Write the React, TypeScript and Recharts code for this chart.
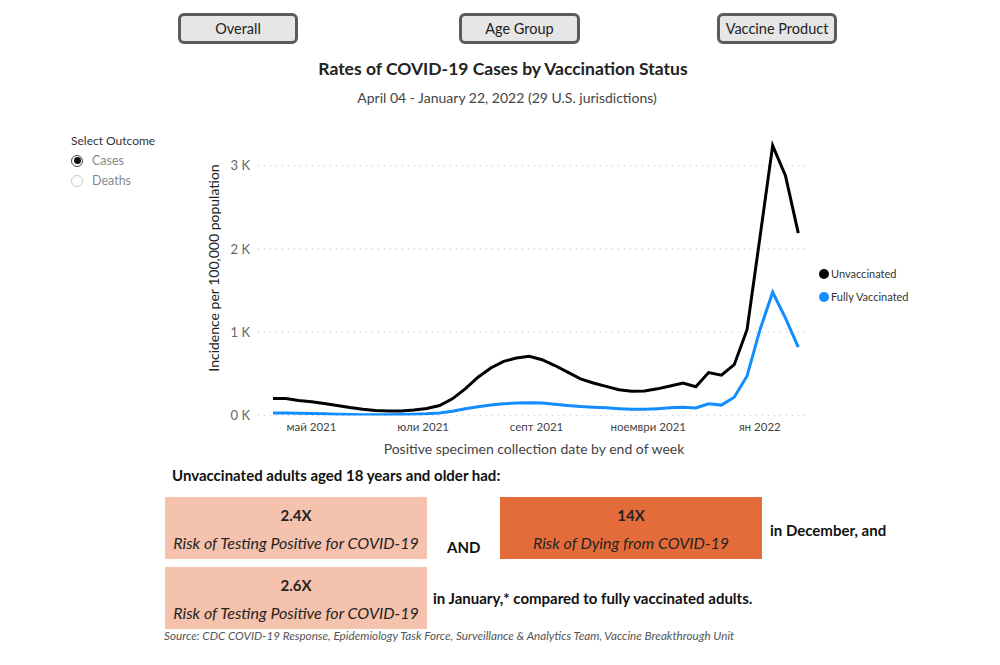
import React from 'react';
import { LineChart, Line, XAxis, YAxis, CartesianGrid, Label } from 'recharts';

// Week-ending dates of positive specimen collection
const weekEnding = [
  '2021-04-10', '2021-04-17', '2021-04-24', '2021-05-01', '2021-05-08', '2021-05-15',
  '2021-05-22', '2021-05-29', '2021-06-05', '2021-06-12', '2021-06-19', '2021-06-26',
  '2021-07-03', '2021-07-10', '2021-07-17', '2021-07-24', '2021-07-31', '2021-08-07',
  '2021-08-14', '2021-08-21', '2021-08-28', '2021-09-04', '2021-09-11', '2021-09-18',
  '2021-09-25', '2021-10-02', '2021-10-09', '2021-10-16', '2021-10-23', '2021-10-30',
  '2021-11-06', '2021-11-13', '2021-11-20', '2021-11-27', '2021-12-04', '2021-12-11',
  '2021-12-18', '2021-12-25', '2022-01-01', '2022-01-08', '2022-01-15', '2022-01-22',
];

// Incidence per 100,000 population
const unvaccinated = [
  205, 205, 180, 165, 145, 120,
  95, 75, 60, 55, 55, 65,
  85, 120, 200, 320, 460, 570,
  650, 690, 710, 670, 600, 520,
  440, 390, 350, 310, 290, 295,
  320, 355, 390, 345, 515, 485,
  610, 1030, 2130, 3240, 2880, 2190,
];

const fullyVaccinated = [
  30, 30, 28, 25, 20, 15,
  12, 10, 10, 10, 12, 15,
  20, 30, 50, 80, 105, 125,
  140, 150, 152, 150, 135, 120,
  108, 100, 92, 82, 75, 75,
  82, 92, 100, 90, 140, 125,
  220, 475, 1025, 1480, 1170, 820,
];

const monthTicks = ['2021-05-01', '2021-07-01', '2021-09-01', '2021-11-01', '2022-01-01'];
const monthTickLabels = ['май 2021', 'юли 2021', 'септ 2021', 'ноември 2021', 'ян 2022'];

const yTicks = [0, 1000, 2000, 3000];
const yTickLabels = ['0 K', '1 K', '2 K', '3 K'];

const seriesNames = ['Unvaccinated', 'Fully Vaccinated'];
const seriesColors = ['#000000', '#118DFF'];

const dayNumber = (iso: string) => {
  const [y, m, d] = iso.split('-').map(Number);
  return Date.UTC(y, m - 1, d) / 86400000;
};

const data = weekEnding.map((w, i) => ({
  day: dayNumber(w),
  unvaccinated: unvaccinated[i],
  fullyVaccinated: fullyVaccinated[i],
}));

const tickDays = monthTicks.map(dayNumber);
const xDomain = [dayNumber('2021-05-01') - 29.2, dayNumber('2022-01-01') + 27.4];

const FONT = "'Segoe UI', Lato, 'Open Sans', 'Noto Sans', sans-serif";

const Button = ({ label, left, width }: { label: string; left: number; width: number }) => (
  <div
    style={{
      position: 'absolute',
      left,
      top: 13,
      width,
      height: 31,
      boxSizing: 'border-box',
      border: '3px solid #5b5b5b',
      borderRadius: 6,
      background: '#e6e6e6',
      display: 'flex',
      alignItems: 'center',
      justifyContent: 'center',
      fontSize: 14.5,
      color: '#222',
    }}
  >
    {label}
  </div>
);

const Radio = ({ label, top, checked }: { label: string; top: number; checked: boolean }) => (
  <div style={{ position: 'absolute', left: 71, top, display: 'flex', alignItems: 'center' }}>
    <div
      style={{
        width: 12,
        height: 12,
        boxSizing: 'border-box',
        borderRadius: '50%',
        border: checked ? '1.5px solid #444' : '1px solid #c8c8c8',
        display: 'flex',
        alignItems: 'center',
        justifyContent: 'center',
        background: '#fff',
      }}
    >
      {checked && <div style={{ width: 7, height: 7, borderRadius: '50%', background: '#111' }} />}
    </div>
    <span style={{ marginLeft: 9, fontSize: 12.5, color: '#8a8a8a' }}>{label}</span>
  </div>
);

const SeriesLegend = () => (
  <div style={{ position: 'absolute', left: 819, top: 262, fontSize: 11, color: '#333' }}>
    {seriesNames.map((n, i) => (
      <div key={n} style={{ display: 'flex', alignItems: 'center', height: 23 }}>
        <span
          style={{
            width: 10,
            height: 10,
            borderRadius: '50%',
            background: seriesColors[i],
            display: 'inline-block',
            marginRight: 2,
          }}
        />
        {n}
      </div>
    ))}
  </div>
);

const Box = ({
  left, top, bg, value, caption,
}: { left: number; top: number; bg: string; value: string; caption: string }) => (
  <div
    style={{
      position: 'absolute',
      left,
      top,
      width: 262,
      height: 62,
      background: bg,
      color: '#252423',
      textAlign: 'center',
    }}
  >
    <div style={{ position: 'absolute', top: 9, width: '100%', fontSize: 15, fontWeight: 700 }}>{value}</div>
    <div style={{ position: 'absolute', top: 36, width: '100%', fontSize: 16, fontStyle: 'italic' }}>{caption}</div>
  </div>
);

const boldText: React.CSSProperties = {
  position: 'absolute',
  fontSize: 15,
  fontWeight: 700,
  color: '#111',
  whiteSpace: 'nowrap',
};

export default function App() {
  return (
    <div
      style={{
        position: 'absolute',
        left: 0,
        top: 0,
        width: 1000,
        height: 665,
        background: '#fff',
        fontFamily: FONT,
        overflow: 'hidden',
      }}
    >
      <Button label="Overall" left={178} width={120} />
      <Button label="Age Group" left={459} width={121} />
      <Button label="Vaccine Product" left={717} width={120} />

      <div style={{ position: 'absolute', top: 58, width: 1000, textAlign: 'center', left: 3, fontSize: 17.5, fontWeight: 700, color: '#222' }}>
        Rates of COVID-19 Cases by Vaccination Status
      </div>
      <div style={{ position: 'absolute', top: 89, width: 1000, textAlign: 'center', left: 7, fontSize: 14, color: '#444' }}>
        April 04 - January 22, 2022 (29 U.S. jurisdictions)
      </div>

      <div style={{ position: 'absolute', left: 71, top: 133, fontSize: 12, color: '#333' }}>Select Outcome</div>
      <Radio label="Cases" top={153} checked />
      <Radio label="Deaths" top={173} checked={false} />

      <div style={{ position: 'absolute', left: 0, top: 0 }}>
        <LineChart
          width={1000}
          height={665}
          data={data}
          margin={{ top: 124, right: 190, bottom: 219.5, left: 208 }}
        >
          <CartesianGrid
            horizontal
            vertical={false}
            horizontalValues={yTicks}
            stroke="#c8c8c8"
            strokeDasharray="1 5"
            strokeWidth={1.2}
          />
          <XAxis
            dataKey="day"
            type="number"
            domain={xDomain}
            allowDataOverflow
            ticks={tickDays}
            tickFormatter={(v: number) => monthTickLabels[tickDays.indexOf(v)] ?? ''}
            axisLine={false}
            tickLine={false}
            height={30}
            tickMargin={1}
            tick={{ fill: '#444', fontSize: 11.5, fontFamily: FONT }}
          >
            <Label
              value="Positive specimen collection date by end of week"
              position="insideBottom"
              offset={-8}
              style={{ fill: '#444', fontSize: 14, fontFamily: FONT }}
            />
          </XAxis>
          <YAxis
            type="number"
            domain={[0, 3500]}
            allowDataOverflow
            ticks={yTicks}
            tickFormatter={(v: number) => yTickLabels[yTicks.indexOf(v)] ?? ''}
            axisLine={false}
            tickLine={false}
            width={50}
            tick={{ fill: '#666', fontSize: 13, fontFamily: FONT }}
          >
            <Label
              content={() => (
                <text
                  x={219}
                  y={268}
                  transform="rotate(-90, 219, 268)"
                  textAnchor="middle"
                  fill="#222"
                  fontSize={14}
                  fontFamily={FONT}
                >
                  Incidence per 100,000 population
                </text>
              )}
            />
          </YAxis>
          <Line
            type="linear"
            dataKey="unvaccinated"
            name={seriesNames[0]}
            stroke={seriesColors[0]}
            strokeWidth={3}
            dot={false}
            isAnimationActive={false}
          />
          <Line
            type="linear"
            dataKey="fullyVaccinated"
            name={seriesNames[1]}
            stroke={seriesColors[1]}
            strokeWidth={3}
            dot={false}
            isAnimationActive={false}
          />
        </LineChart>
      </div>
      <SeriesLegend />

      <div style={{ ...boldText, left: 172, top: 466 }}>Unvaccinated adults aged 18 years and older had:</div>
      <Box left={165} top={497} bg="#F4C2AD" value="2.4X" caption="Risk of Testing Positive for COVID-19" />
      <div style={{ ...boldText, left: 447, top: 538 }}>AND</div>
      <Box left={500} top={497} bg="#E46C3A" value="14X" caption="Risk of Dying from COVID-19" />
      <div style={{ ...boldText, left: 770, top: 521 }}>in December, and</div>
      <Box left={165} top={567} bg="#F4C2AD" value="2.6X" caption="Risk of Testing Positive for COVID-19" />
      <div style={{ ...boldText, left: 433, top: 589 }}>in January,* compared to fully vaccinated adults.</div>
      <div style={{ position: 'absolute', left: 164, top: 628, fontSize: 11.7, fontStyle: 'italic', color: '#555', whiteSpace: 'nowrap' }}>
        Source: CDC COVID-19 Response, Epidemiology Task Force, Surveillance &amp; Analytics Team, Vaccine Breakthrough Unit
      </div>
    </div>
  );
}
